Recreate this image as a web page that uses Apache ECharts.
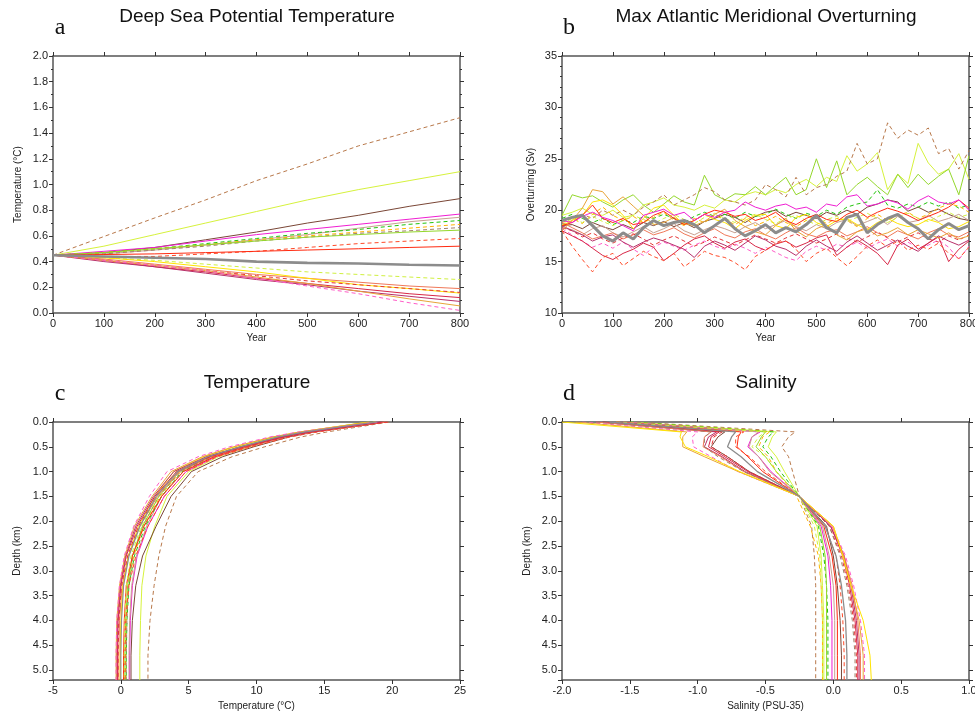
<!DOCTYPE html>
<html><head><meta charset="utf-8">
<script src="https://cdn.jsdelivr.net/npm/echarts/dist/echarts.min.js"></script>
<style>html,body{margin:0;padding:0;background:#fff}#c{width:975px;height:713px}</style>
</head><body><div id="c"></div>
<script>
// ---------- axis values ----------
const years = [0,100,200,300,400,500,600,700,800];
const bYears = [0,20,40,60,80,100,120,140,160,180,200,220,240,260,280,300,320,340,360,380,400,420,440,460,480,500,520,540,560,580,600,620,640,660,680,700,720,740,760,780,800];
const depthC = [0,0.1,0.2,0.3,0.5,0.7,1.0,1.5,2.1,2.7,3.3,4.0,4.7,5.2];
const depthD = [0,0.2,0.3,0.5,0.7,1.0,1.5,2.1,2.7,3.3,4.0,4.7,5.2];

// ---------- panel a: deep sea potential temperature (°C) ----------
const aBrownDash  = [0.45,0.595,0.74,0.88,1.03,1.16,1.30,1.41,1.52];
const aYgSolid    = [0.45,0.52,0.61,0.70,0.79,0.88,0.96,1.03,1.10];
const aDkBrown    = [0.45,0.47,0.51,0.57,0.63,0.70,0.76,0.83,0.89];
const aMagenta    = [0.45,0.48,0.51,0.56,0.61,0.65,0.69,0.73,0.77];
const aTan        = [0.45,0.46,0.49,0.53,0.57,0.61,0.66,0.71,0.745];
const aGreenDash  = [0.45,0.47,0.50,0.54,0.58,0.62,0.65,0.69,0.72];
const aOrangeDash = [0.45,0.47,0.50,0.53,0.57,0.60,0.63,0.66,0.69];
const aGbDash     = [0.45,0.46,0.49,0.52,0.56,0.59,0.62,0.64,0.665];
const aYgSolid2   = [0.45,0.47,0.50,0.53,0.56,0.59,0.61,0.63,0.645];
const aRedDash    = [0.45,0.44,0.44,0.46,0.48,0.51,0.54,0.56,0.58];
const aRedSolid   = [0.45,0.455,0.46,0.47,0.48,0.49,0.50,0.51,0.52];
const aGray       = [0.45,0.44,0.43,0.42,0.40,0.39,0.385,0.375,0.37];
const aYgDash     = [0.45,0.43,0.41,0.38,0.35,0.32,0.30,0.28,0.26];
const aSalmon     = [0.45,0.42,0.38,0.34,0.30,0.27,0.24,0.21,0.19];
const aYellow     = [0.45,0.43,0.40,0.36,0.32,0.27,0.22,0.19,0.155];
const aRedDash2   = [0.45,0.41,0.37,0.33,0.29,0.25,0.22,0.19,0.16];
const aCrimson    = [0.45,0.41,0.36,0.32,0.27,0.23,0.19,0.15,0.12];
const aRasp       = [0.45,0.40,0.36,0.31,0.26,0.22,0.17,0.13,0.09];
const aGold       = [0.45,0.41,0.37,0.33,0.28,0.23,0.17,0.11,0.055];
const aPinkDash   = [0.45,0.41,0.37,0.33,0.27,0.21,0.15,0.08,0.02];

// ---------- panel b: max Atlantic overturning (Sv) ----------
const bGray       = [19,19.3,19.5,18.5,17.5,17,17.8,17.2,18.3,19,18.5,18.8,19,18.6,17.8,18.5,19.2,18.2,17.5,18,18.6,17.8,18.3,17.9,18.6,19.5,18.3,17.8,19.3,19.6,17.8,18.6,19.2,19.6,18.8,18.2,17.2,18.1,18.7,18.1,18.5];
const bYgSolid2   = [19.5,21.5,21.2,21.4,20.8,20.3,21,21.5,20.5,19.8,20.6,21.4,20.8,20.5,23.4,21.5,21,21.6,21.5,22.3,21.5,22.4,23.2,21.5,22,25,22.2,24.8,21.5,22.5,23.2,22.3,21.5,23.5,22.2,23.5,22.5,23.3,24,21.5,25.3];
const bYgSolid    = [19.5,19.8,20.2,19.6,19.5,20,19.3,19.5,20.5,20.8,21.2,20.5,20.3,20,20.5,20.2,21,20.8,21.5,21.8,21.5,22,21.7,22.5,23,22.3,23.2,22.8,25.3,23.8,24.5,25.6,22,23.5,22.6,26.5,24.6,23.5,24,25.5,23];
const bBrownDash  = [18.5,19,19.6,19.2,20,19.5,20,19.5,20.3,20.8,21.5,20.5,21,21.5,22.2,21.8,21,20.8,20.5,21,22.5,22,21.3,23.2,21.5,22.2,22.5,23.3,23.8,26.5,24.5,25,28.5,27,27.8,27.3,28,25.5,26,24,25.8];
const bMagenta    = [19,18.8,19.4,19.8,19.3,19,18.5,18,19.5,19.8,20.1,19.5,19.8,19,19.6,19.3,19.8,20,20.8,20.3,20,20.4,20.6,20.1,20.3,19.8,20.6,20.4,21.3,21.5,20.4,20.6,21,20.7,20.1,20.9,21.4,20.8,20.6,21,20];
const bRedSolid   = [18.5,18.8,19.5,20.5,19.2,18.8,19.2,18.6,18.8,19.5,19.9,19.2,18.6,19,19.6,20,19.8,19.4,19.6,19,19.3,19.8,19,18.6,19.2,19.6,19.1,18.9,19.6,20,19.3,19.8,20.2,19.9,19.5,19,19.4,19.8,20.3,21,20.2];
const bYellow     = [18.5,19,19.5,20.8,21,20.5,19.5,18.2,19.2,20.2,20.5,19.5,18.6,19,19.6,19.1,18.8,18.2,19,19.5,19.6,18.5,18.2,19.3,19.6,18.8,18.4,19,19.2,18.6,18.1,18.8,19.2,18.7,18.4,18.6,19.1,18.8,18.2,18.4,18.9];
const bGold       = [18,19,20.2,22,21.8,20.6,21.3,20.4,19.5,18.6,18.8,19.3,18.7,18.5,18.9,19.6,20.1,19,18.4,17.9,17.6,18.5,19.2,18,17.4,18.2,18.6,17.6,17.1,17.9,18.2,17.5,17.8,18.3,17.6,18.1,17.7,17.3,17.8,17.2,17.5];
const bOrangeDash = [18.8,19.2,18.7,19.6,20.3,19.5,19,19.4,18.8,19.3,19.8,19,18.5,19.2,18.8,19.5,19.1,18.6,19.2,18.5,18.9,19.4,18.8,18.4,19,19.3,18.7,19.2,19,18.4,19.2,19.6,19,19.5,19.8,19.2,19.6,20.2,20.6,20.4,19.8];
const bGreenDash  = [19.2,19.6,19.2,18.8,19.2,18.6,19,18.8,19.4,19.2,19.6,19.2,18.8,19.4,19.8,19.4,19.6,19.2,19.8,19.4,19.6,20.1,19.6,19.2,19.7,19.4,20,19.6,20.3,20.6,20.8,22,20.5,20.2,20.6,20.3,20.8,20.4,20.8,20.2,20.5];
const bDkBrown    = [18.5,18.6,18.2,18.8,18.4,18.1,18.6,18.2,18.8,18.5,18.9,18.4,18.8,18.3,18.9,19.2,19.6,19.3,18.8,19.4,19.8,20,19.4,19.8,19.5,19.2,19.8,19.5,20,19.6,20.3,20.6,21,20.8,19.9,20.3,19.8,20.1,19.6,19.2,19];
const bTan        = [18.3,18.1,17.6,18.2,18.5,17.8,17.4,17.9,18.4,17.8,18.2,18.7,18,17.6,18.1,18.5,18.2,17.8,18.4,18.8,18.2,18.6,19,18.4,18,18.6,18.2,18.8,19.1,18.5,18.9,19.3,18.6,19.4,18.8,19,19.5,18.9,19.2,19.6,19];
const bRedDash    = [18,16.5,15.2,14,15.4,15.8,14.6,15.3,16,15.5,15.1,15.8,14.5,15.2,16,15.6,15.4,14.9,14.2,15.5,16.1,16.8,17,16.2,15,15.8,16.3,15.4,14.6,15.5,16.5,17.1,16.4,17,16.1,16.6,16.2,16.8,15.8,15.3,16.4];
const bCrimson    = [18,17.5,17,16.3,15.6,15.2,15.8,16.2,16.8,16.4,15.1,15.8,16.6,17.2,17.5,16.8,16.3,16.9,17.2,16.5,16.1,16.7,17,16.4,16.8,17.3,17.6,15.6,16.4,17.1,16.5,15.8,14.7,16.6,17.2,16.2,16.8,17.4,15,16.2,17];
const bRasp       = [18.5,18,17.6,17,17.4,17.6,16.9,16.4,16.9,17.3,17,16.6,16.2,15.4,16.5,17,16.6,16.1,16.8,17.5,17.1,16.5,16.2,15.6,16.5,17.1,16.5,16,16.9,17.5,16.8,16.1,16.6,17.1,16.5,16,16.8,17.5,17,16.6,17.1];
const bSalmon     = [18.8,18.3,17.8,17.2,17.5,17.8,17.2,17.6,18.1,17.6,17.9,18.3,17.7,17.3,17.8,18.2,17.6,17.3,17.9,18.2,17.6,17.2,17.8,18.3,17.7,17.4,17.9,18.1,17.5,17.9,18.4,17.8,17.4,18,17.6,17.2,17.8,18.2,17.6,17.4,17.9];
const bPinkDash   = [18.2,17.6,17,16.4,16.8,16.3,16.9,16.2,15.6,16.4,16.9,16.5,16.1,16.6,17,16.5,16.2,16.7,16.3,15.8,16.4,15.9,15.4,15.1,16,16.5,16.1,16.7,16.4,16.9,16.3,16.8,17.2,16.5,16.9,16.3,16.6,17.1,16.4,15.2,16.5];
const bRedDash2   = [18.3,18,17.4,17.8,17.2,16.8,17.3,17.7,17.2,16.6,17.1,17.5,17,16.5,16.9,17.4,17,16.6,17.1,17.6,17.2,16.8,17.3,17.7,17.2,16.8,17.2,17.7,17.3,16.9,17.4,17.9,17.3,16.9,17.4,17.8,17.2,16.9,17.5,17.1,17.6];
const bYgDash     = [18.6,19.2,18.8,19.4,18.9,18.5,19,19.5,19.1,18.7,19.2,19.6,19.1,18.7,19.3,19.7,19.2,18.8,19.3,19.6,19.1,18.7,19.2,19.5,19,18.6,19.1,19.4,18.9,19.3,19.7,19.2,18.8,19.3,19.7,19.2,18.9,19.4,19.8,19.3,19.6];

// ---------- panel c: temperature profiles (°C) at depthC ----------
const cBrownDash  = [19.8,17.5,15.2,13.3,10.6,8.2,5.7,4.1,3.3,2.8,2.45,2.15,2.0,2.0];
const cYgSolid    = [18.8,16.2,13.8,12.0,9.5,7.2,5.0,3.4,2.5,1.85,1.55,1.45,1.4,1.4];
const cDkBrown    = [19.2,16.8,14.3,12.4,9.8,7.5,5.2,3.7,2.6,1.6,1.1,0.85,0.75,0.75];
const cMagenta    = [18.6,16.5,14.0,12.0,9.3,7.0,4.8,3.2,2.0,1.2,0.85,0.7,0.65,0.65];
const cTan        = [19.0,16.6,14.0,12.0,9.2,6.8,4.6,3.0,1.9,1.15,0.8,0.65,0.6,0.6];
const cGreenDash  = [18.6,16.0,13.6,11.7,9.0,6.7,4.5,3.0,1.8,1.0,0.6,0.45,0.4,0.4];
const cOrangeDash = [18.8,16.1,13.5,11.6,8.9,6.6,4.4,2.9,1.7,0.95,0.55,0.4,0.35,0.35];
const cGbDash     = [19.2,16.4,13.8,11.8,9.0,6.6,4.4,2.8,1.6,0.9,0.55,0.45,0.4,0.4];
const cYgSolid2   = [18.2,15.8,13.4,11.5,8.8,6.5,4.3,2.8,1.6,0.85,0.5,0.35,0.3,0.3];
const cRedDash    = [19.6,17.0,14.5,12.5,9.6,7.1,4.8,3.2,2.0,1.1,0.6,0.35,0.3,0.3];
const cRedSolid   = [19.4,16.6,14.0,12.0,9.3,6.9,4.6,3.0,1.7,0.85,0.4,0.25,0.2,0.2];
const cGray       = [18.9,16.2,13.6,11.6,8.8,6.4,4.2,2.6,1.4,0.6,0.2,0.05,0.0,0.0];
const cYgDash     = [18.7,16.0,13.4,11.4,8.6,6.3,4.1,2.7,1.5,0.75,0.4,0.3,0.25,0.25];
const cSalmon     = [19.5,16.8,14.2,12.2,9.2,6.7,4.3,2.7,1.4,0.55,0.1,-0.1,-0.15,-0.15];
const cYellow     = [18.3,15.7,13.2,11.3,8.4,6.1,3.9,2.5,1.3,0.55,0.15,0.0,-0.05,-0.05];
const cRedDash2   = [19.7,16.9,14.3,12.2,9.2,6.6,4.2,2.6,1.3,0.5,0.05,-0.15,-0.2,-0.2];
const cCrimson    = [19.3,16.6,14.0,12.0,9.0,6.5,4.1,2.5,1.2,0.4,0.0,-0.2,-0.25,-0.25];
const cRasp       = [19.1,16.4,13.8,11.8,8.8,6.3,3.9,2.4,1.1,0.35,-0.05,-0.25,-0.3,-0.3];
const cGold       = [18.4,15.8,13.2,11.2,8.3,6.0,3.7,2.3,1.0,0.3,-0.1,-0.3,-0.35,-0.35];
const cPinkDash   = [18.9,15.9,13.1,11.0,8.0,5.7,3.4,2.1,0.95,0.25,-0.1,-0.3,-0.35,-0.35];

// ---------- panel d: salinity profiles (PSU-35) at depthD ----------
const dBrownDash  = [-1.45,-0.28,-0.33,-0.38,-0.33,-0.30,-0.25,-0.16,-0.14,-0.13,-0.13,-0.13,-0.13];
const dYgSolid    = [-1.50,-0.42,-0.45,-0.48,-0.42,-0.36,-0.25,-0.12,-0.09,-0.08,-0.07,-0.07,-0.07];
const dGreenDash  = [-1.50,-0.44,-0.48,-0.52,-0.46,-0.39,-0.25,-0.11,-0.07,-0.05,-0.04,-0.04,-0.04];
const dOrangeDash = [-1.55,-0.47,-0.52,-0.55,-0.48,-0.42,-0.27,-0.17,-0.11,-0.09,-0.08,-0.08,-0.08];
const dYgSolid2   = [-1.55,-0.50,-0.53,-0.57,-0.50,-0.42,-0.25,-0.10,-0.06,-0.05,-0.05,-0.05,-0.05];
const dMagenta    = [-1.55,-0.54,-0.60,-0.63,-0.55,-0.46,-0.25,-0.09,-0.04,-0.02,-0.01,-0.01,-0.01];
const dTan        = [-1.60,-0.55,-0.60,-0.62,-0.55,-0.47,-0.25,-0.08,-0.03,0.00,0.01,0.01,0.01];
const dRedSolid   = [-1.60,-0.68,-0.70,-0.71,-0.63,-0.52,-0.25,-0.07,-0.01,0.02,0.03,0.03,0.03];
const dRedDash    = [-1.60,-0.66,-0.72,-0.72,-0.62,-0.50,-0.25,-0.06,0.02,0.05,0.07,0.08,0.08];
const dGray       = [-1.65,-0.72,-0.75,-0.78,-0.68,-0.56,-0.25,-0.06,0.02,0.06,0.09,0.10,0.10];
const dDkBrown    = [-1.70,-0.80,-0.85,-0.90,-0.78,-0.62,-0.25,-0.05,0.00,0.03,0.05,0.06,0.06];
const dYgDash     = [-1.60,-0.50,-0.55,-0.60,-0.50,-0.42,-0.25,-0.14,-0.10,-0.09,-0.08,-0.08,-0.08];
const dCrimson    = [-1.70,-0.84,-0.90,-0.92,-0.80,-0.63,-0.25,-0.02,0.07,0.12,0.16,0.18,0.18];
const dRasp       = [-1.75,-0.86,-0.92,-0.95,-0.82,-0.65,-0.25,-0.02,0.08,0.13,0.17,0.19,0.19];
const dRedDash2   = [-1.70,-0.82,-0.88,-0.90,-0.78,-0.62,-0.25,-0.03,0.06,0.11,0.15,0.17,0.17];
const dSalmon     = [-1.75,-0.90,-0.95,-0.96,-0.83,-0.66,-0.25,-0.01,0.08,0.14,0.18,0.20,0.20];
const dGbDash     = [-1.75,-0.90,-0.95,-0.95,-0.85,-0.66,-0.25,-0.03,0.05,0.10,0.14,0.16,0.16];
const dPinkDash   = [-1.85,-1.00,-1.04,-1.03,-0.90,-0.70,-0.25,-0.01,0.09,0.15,0.20,0.23,0.23];
const dGold       = [-1.90,-1.08,-1.11,-1.11,-0.95,-0.70,-0.25,0.00,0.07,0.13,0.19,0.22,0.22];
const dYellow     = [-2.00,-1.12,-1.13,-1.09,-0.92,-0.69,-0.25,0.00,0.07,0.13,0.22,0.27,0.28];

// ---------- styles ----------
const STY = {
  brownDash:{c:'#b8784a',d:true}, ygSolid:{c:'#d6f23c'}, dkBrown:{c:'#7a4636'}, magenta:{c:'#f01ed2'},
  tan:{c:'#c8a090'}, greenDash:{c:'#22c40a',d:true}, orangeDash:{c:'#ffb400',d:true}, gbDash:{c:'#a0806a',d:true},
  ygSolid2:{c:'#94d82c'}, redDash:{c:'#ff4a28',d:true}, redSolid:{c:'#ff2a10'}, gray:{c:'#8c8c8c'},
  ygDash:{c:'#d0f040',d:true}, salmon:{c:'#f07858'}, yellow:{c:'#ffe400'}, redDash2:{c:'#e63434',d:true},
  crimson:{c:'#d82848'}, rasp:{c:'#b8306a'}, gold:{c:'#e8a438'}, pinkDash:{c:'#ff5cc8',d:true}
};
const FONT = '"Liberation Sans", Arial, sans-serif';

const panelA = {brownDash:aBrownDash,ygSolid:aYgSolid,dkBrown:aDkBrown,magenta:aMagenta,tan:aTan,greenDash:aGreenDash,orangeDash:aOrangeDash,gbDash:aGbDash,ygSolid2:aYgSolid2,redDash:aRedDash,redSolid:aRedSolid,ygDash:aYgDash,salmon:aSalmon,yellow:aYellow,redDash2:aRedDash2,crimson:aCrimson,rasp:aRasp,gold:aGold,pinkDash:aPinkDash,gray:aGray};
const panelB = {ygSolid:bYgSolid,ygSolid2:bYgSolid2,brownDash:bBrownDash,dkBrown:bDkBrown,tan:bTan,greenDash:bGreenDash,orangeDash:bOrangeDash,ygDash:bYgDash,salmon:bSalmon,redDash2:bRedDash2,pinkDash:bPinkDash,rasp:bRasp,crimson:bCrimson,redDash:bRedDash,gold:bGold,yellow:bYellow,redSolid:bRedSolid,magenta:bMagenta,gray:bGray};
const panelC = {brownDash:cBrownDash,ygSolid:cYgSolid,dkBrown:cDkBrown,magenta:cMagenta,tan:cTan,greenDash:cGreenDash,orangeDash:cOrangeDash,gbDash:cGbDash,ygSolid2:cYgSolid2,redDash:cRedDash,redSolid:cRedSolid,gray:cGray,ygDash:cYgDash,salmon:cSalmon,yellow:cYellow,redDash2:cRedDash2,crimson:cCrimson,rasp:cRasp,gold:cGold,pinkDash:cPinkDash};
const panelD = {brownDash:dBrownDash,ygSolid:dYgSolid,greenDash:dGreenDash,orangeDash:dOrangeDash,ygSolid2:dYgSolid2,magenta:dMagenta,tan:dTan,redSolid:dRedSolid,redDash:dRedDash,gray:dGray,dkBrown:dDkBrown,ygDash:dYgDash,crimson:dCrimson,rasp:dRasp,redDash2:dRedDash2,salmon:dSalmon,gbDash:dGbDash,pinkDash:dPinkDash,gold:dGold,yellow:dYellow};

const series = [];
function addPanel(tbl, idx, xs, profile, grayW) {
  Object.keys(tbl).forEach(k => {
    const s = STY[k], vals = tbl[k];
    const data = profile ? vals.map((v,i)=>[v, xs[i]]) : vals.map((v,i)=>[xs[i], v]);
    series.push({type:'line', xAxisIndex:idx, yAxisIndex:idx, data, symbol:'none', silent:true,
      z: k==='gray' ? 4 : 2,
      lineStyle:{color:s.c, width: k==='gray' ? grayW : 1, type: s.d ? [4,3] : 'solid'}});
  });
}
addPanel(panelA, 0, years, false, 2.6);
addPanel(panelB, 2, bYears, false, 3);
addPanel(panelC, 4, depthC, true, 1.2);
addPanel(panelD, 6, depthD, true, 1.3);

const grids = [
  {left:53, top:56, width:407, height:257},
  {left:562, top:56, width:407, height:257},
  {left:53, top:422, width:407, height:258},
  {left:562, top:422, width:407, height:258}
].map(g => Object.assign({containLabel:false, outerBoundsMode:'none'}, g));

const lineSt = {show:true, onZero:false, lineStyle:{color:'#555', width:1.5}};
const tickSt = {show:true, inside:false, length:4, lineStyle:{color:'#333', width:1}};
const nameSt = {color:'#222', fontSize:10, fontFamily:FONT};
function ax(grid, pos, min, max, iv, o) {
  o = o || {};
  const main = pos==='bottom' || pos==='left';
  return {type:'value', gridIndex:grid, position:pos, min, max, interval:iv, inverse:!!o.inv,
    axisLine:lineSt, axisTick:tickSt,
    minorTick:{show:!!o.minor, splitNumber:o.minor||2, length:2, lineStyle:{color:'#333'}},
    splitLine:{show:false}, minorSplitLine:{show:false},
    axisLabel:{show:main, margin:5, color:'#222', fontSize:11, fontFamily:FONT, formatter:o.fmt, hideOverlap:false},
    name: main ? o.name : '', nameLocation:'middle', nameGap:o.gap, nameRotate: (pos==='left')?90:0, nameTextStyle:nameSt};
}
const f1 = v => v.toFixed(1);
const fHalf = v => Math.abs(v*2 - Math.round(v*2)) < 1e-6 ? v.toFixed(1) : '';
const f0 = v => String(Math.round(v));

const option = {
  animation:false, backgroundColor:'#fff',
  grid: grids,
  xAxis: [
    ax(0,'bottom',0,800,100,{name:'Year',gap:20,fmt:f0}), ax(0,'top',0,800,100),
    ax(1,'bottom',0,800,100,{name:'Year',gap:20,fmt:f0}), ax(1,'top',0,800,100),
    ax(2,'bottom',-5,25,5,{name:'Temperature (°C)',gap:21,fmt:f0}), ax(2,'top',-5,25,5),
    ax(3,'bottom',-2,1,0.5,{name:'Salinity (PSU-35)',gap:21,fmt:f1}), ax(3,'top',-2,1,0.5)
  ],
  yAxis: [
    ax(0,'left',0,2,0.2,{name:'Temperature (°C)',gap:30,fmt:f1,minor:2}), ax(0,'right',0,2,0.2,{minor:2}),
    ax(1,'left',10,35,5,{name:'Overturning (Sv)',gap:26,fmt:f0,minor:5}), ax(1,'right',10,35,5,{minor:5}),
    ax(2,'left',0,5.2,0.5,{name:'Depth (km)',gap:31,fmt:fHalf,inv:true}), ax(2,'right',0,5.2,0.5,{inv:true}),
    ax(3,'left',0,5.2,0.5,{name:'Depth (km)',gap:30,fmt:fHalf,inv:true}), ax(3,'right',0,5.2,0.5,{inv:true})
  ],
  graphic: [
    ['Deep Sea Potential Temperature',257,16.5],['Max Atlantic Meridional Overturning',766,16.5],
    ['Temperature',257,383],['Salinity',766,383]
  ].map(t => ({type:'text', x:t[1], y:t[2], style:{text:t[0], textAlign:'center', textVerticalAlign:'middle', font:'19px '+FONT, fill:'#111'}}))
  .concat([['a',60,28],['b',569,28],['c',60,394],['d',569,394]].map(t => ({type:'text', x:t[1], y:t[2],
    style:{text:t[0], textAlign:'center', textVerticalAlign:'middle', font:'24px "Liberation Serif", "Times New Roman", serif', fill:'#111'}}))),
  series
};
const chart = echarts.init(document.getElementById('c'), null, {renderer:'canvas'});
chart.setOption(option);
</script></body></html>
